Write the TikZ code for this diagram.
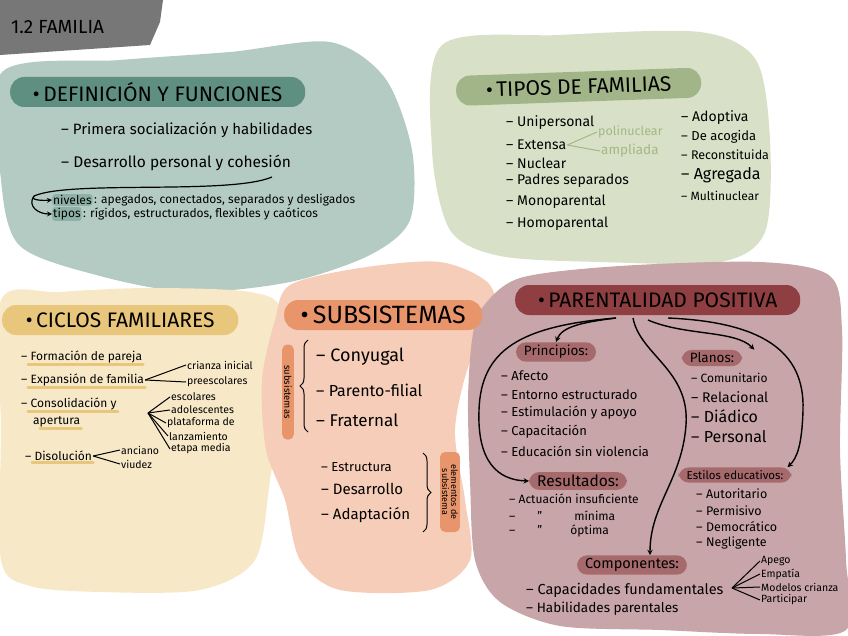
\documentclass[tikz,border=0pt]{standalone}
\usepackage{fontspec}
\setmainfont{Fira Sans}
\usepackage{xcolor}
\usetikzlibrary{positioning,decorations.pathreplacing}
\definecolor{graybox}{HTML}{777777}
\definecolor{tealbg}{HTML}{B4CBC4}
\definecolor{tealdark}{HTML}{5F8F81}
\definecolor{tealmid}{HTML}{8DB1A6}
\definecolor{greenbg}{HTML}{D8E1C7}
\definecolor{greendark}{HTML}{A2B588}
\definecolor{lgreen}{HTML}{A3B886}
\definecolor{yellowbg}{HTML}{F7E8C8}
\definecolor{yellowdark}{HTML}{E8C77C}
\definecolor{salmonbg}{HTML}{F6CDB8}
\definecolor{salmondark}{HTML}{E9956C}
\definecolor{mauvebg}{HTML}{C8A5A8}
\definecolor{mauvedark}{HTML}{8F3F42}
\definecolor{mauvemid}{HTML}{A66A6D}
\newcommand\fsz[1]{\fontsize{#1}{#1}\selectfont}

\begin{document}
\begin{tikzpicture}[x=1pt,y=-1pt,
    hbar/.style={fill=#1,rounded corners=14pt,anchor=west,minimum height=30pt,inner xsep=7pt,font=\fsz{21}},
    item/.style={anchor=west,inner sep=1pt,font=\fsz{#1}},
    item/.default=12,
    pad/.style={fill=mauvemid,rounded corners=10pt,inner xsep=8pt,inner ysep=3pt},
    arr/.style={-stealth,line width=1.4pt},
    brc/.style={decorate,decoration={brace,amplitude=8pt},line width=1pt},
    uline/.style={yellowdark,line width=3pt,line cap=round}]
  \useasboundingbox (0,0) rectangle (848,636);

  % blobs
  \fill[graybox] (0,0) -- (163,0) -- (160,22) -- (150,45) -- (0,55) -- cycle;
  \fill[tealbg] plot[smooth cycle] coordinates {(2,72) (120,60) (230,52) (330,42) (385,78) (412,150) (410,220) (370,255) (290,282) (190,292) (100,276) (20,246) (1,180)};
  \fill[greenbg] plot[smooth cycle] coordinates {(442,45) (560,35) (700,32) (756,60) (770,140) (765,232) (720,262) (600,262) (500,256) (450,230) (432,150)};
  \fill[yellowbg] plot[smooth cycle] coordinates {(1,300) (60,292) (150,288) (250,292) (282,312) (280,400) (270,480) (255,560) (200,590) (100,592) (30,586) (1,560) (1,430)};
  \fill[salmonbg] plot[smooth cycle] coordinates {(290,285) (360,268) (440,262) (490,285) (495,330) (470,362) (455,430) (465,500) (470,560) (430,590) (340,590) (300,560) (285,500) (266,450) (262,380) (275,320)};
  \fill[mauvebg] plot[smooth cycle] coordinates {(482,308) (520,278) (620,266) (760,262) (830,276) (842,330) (840,450) (846,560) (846,630) (760,634) (660,630) (560,626) (500,602) (475,560) (470,480) (468,400) (472,340)};

  \node[item=19] (ttl) at (10,27) {1.2 FAMILIA};

  % definicion y funciones
  \node[hbar=tealdark,minimum width=295pt] (defhead) at (10,92) {\textbullet\,DEFINICIÓN Y FUNCIONES};
  \node[item=15] (dfa) at (60,130) {– Primera socialización y habilidades};
  \node[item=15.5] (dfb) at (60,163) {– Desarrollo personal y cohesión};
  \node[item=12,fill=tealmid,rounded corners=3pt] (niv) at (52,200) {niveles};
  \node[item=12,right=0pt of niv] (nivtxt) {: apegados, conectados, separados y desligados};
  \node[item=12,fill=tealmid,rounded corners=3pt] (tip) at (52,214) {tipos};
  \node[item=12,right=0pt of tip] (tiptxt) {: rígidos, estructurados, flexibles y caóticos};
  \coordinate (dc) at (272,177);
  \coordinate (dl) at (34,196);
  \draw[line width=1.2pt] (dc) .. controls (230,195) and (70,180) .. (dl);
  \draw[arr,line width=1.2pt] (dl) .. controls (30,199) and (38,201) .. (niv.west);
  \draw[arr,line width=1.2pt] (dl) .. controls (27,206) and (38,214) .. (tip.west);

  % tipos de familias
  \node[hbar=greendark,minimum width=245pt,rotate=2] (tiphead) at (456,91) {\textbullet\,TIPOS DE FAMILIAS};
  \node[item=14] (tuni) at (505,123) {– Unipersonal};
  \node[item=14] (text) at (505,145) {– Extensa};
  \node[item=14] (tnuc) at (505,163) {– Nuclear};
  \node[item=14] (tpad) at (505,181) {– Padres separados};
  \node[item=14] (tmon) at (505,202) {– Monoparental};
  \node[item=14] (thom) at (505,224) {– Homoparental};
  \node[item=12.5,text=lgreen] (tpol) at (597,132) {polinuclear};
  \node[item=13.5,text=lgreen] (tamp) at (600,151) {ampliada};
  \draw[lgreen,line width=1pt] (text.east) -- (tpol.west);
  \draw[lgreen,line width=1pt] (text.east) -- (tamp.west);
  \node[item=14] (tado) at (680,118) {– Adoptiva};
  \node[item=13] (tacg) at (680,137) {– De acogida};
  \node[item=12.5] (trec) at (680,155) {– Reconstituida};
  \node[item=16] (tagr) at (680,175) {– Agregada};
  \node[item=12] (tmul) at (680,196) {– Multinuclear};

  % ciclos familiares
  \node[hbar=yellowdark,minimum width=236pt] (cichead) at (2,320) {\textbullet\,CICLOS FAMILIARES};
  \node[item=12] (cfa) at (20,357) {– Formación de pareja};
  \node[item=12] (cfb) at (20,380) {– Expansión de familia};
  \node[item=12] (cfc) at (20,404) {– Consolidación y};
  \node[item=12] (cfd) at (32,422) {apertura};
  \node[item=12] (cfe) at (24,456) {– Disolución};
  \foreach \n in {cfa,cfb,cfc,cfd,cfe}
    \draw[uline] ([xshift=8pt]\n.south west) -- (\n.south east);
  \node[item=10.5] (ccri) at (186,365) {crianza inicial};
  \node[item=10.5] (cpre) at (186,382) {preescolares};
  \draw[line width=1pt] (cfb.east) -- (ccri.west);
  \draw[line width=1pt] (cfb.east) -- (cpre.west);
  \coordinate (cfan) at (148,413);
  \node[item=10.5] (cesc) at (170,397) {escolares};
  \node[item=10.5] (cado) at (170,410) {adolescentes};
  \node[item=10.5] (cpla) at (166,423) {plataforma de};
  \node[item=10.5] (clan) at (168,436) {lanzamiento};
  \node[item=10.5] (ceta) at (170,449) {etapa media};
  \foreach \n in {cesc,cado,cpla,clan,ceta}
    \draw[line width=1pt] (cfan) -- (\n.west);
  \node[item=10.5] (canc) at (120,450) {anciano};
  \node[item=10.5] (cviu) at (120,464) {viudez};
  \draw[line width=1pt] (cfe.east) -- (canc.west);
  \draw[line width=1pt] (cfe.east) -- (cviu.west);

  % subsistemas
  \node[hbar=salmondark,minimum width=198pt,font=\fsz{25}] (subhead) at (284,315) {\textbullet\,SUBSISTEMAS};
  \node[fill=salmondark,rounded corners=5pt,rotate=-90,font=\fsz{9.5},inner sep=2pt,minimum width=95pt] (sublab) at (288,392) {subsistemas};
  \draw[brc] (308,432) -- (308,340);
  \node[item=18] (scon) at (315,357) {– Conyugal};
  \node[item=16] (spar) at (315,390) {– Parento-filial};
  \node[item=17] (sfra) at (315,420) {– Fraternal};
  \node[item=13] (sest) at (320,467) {– Estructura};
  \node[item=15] (sdes) at (320,489) {– Desarrollo};
  \node[item=15] (sada) at (320,515) {– Adaptación};
  \draw[brc] (423,453) -- (423,532);
  \node[fill=salmondark,rounded corners=5pt,rotate=-90,font=\fsz{9},inner sep=2pt,align=center,minimum width=80pt] (elab) at (450,492) {elementos de\\subsistema};

  % parentalidad positiva
  \node[hbar=mauvedark,minimum width=285pt] (parhead) at (515,300) {\textbullet\,PARENTALIDAD POSITIVA};
  \node[pad,font=\fsz{13.5}] (princ) at (556,352) {Principios:};
  \node[item=13] (pafe) at (500,376) {– Afecto};
  \node[item=13] (pent) at (500,395) {– Entorno estructurado};
  \node[item=13] (pest) at (500,413) {– Estimulación y apoyo};
  \node[item=13] (pcap) at (500,432) {– Capacitación};
  \node[item=13] (pedu) at (500,451) {– Educación sin violencia};
  \node[pad,font=\fsz{13.5}] (plan) at (712,358) {Planos:};
  \node[item=12] (lcom) at (690,378) {– Comunitario};
  \node[item=14] (lrel) at (690,397) {– Relacional};
  \node[item=16] (ldia) at (690,416) {– Diádico};
  \node[item=16] (lper) at (690,437) {– Personal};
  \node[pad,font=\fsz{15.5}] (result) at (578,481) {Resultados:};
  \node[item=12] (rins) at (508,499) {– Actuación insuficiente};
  \node[item=12] (rmin) at (508,516) {–\hspace{22pt}''\hspace{32pt}mínima};
  \node[item=12] (ropt) at (508,531) {–\hspace{22pt}''\hspace{28pt}óptima};
  \node[pad,font=\fsz{11.5}] (estil) at (735,475) {Estilos educativos:};
  \node[item=12.5] (eaut) at (695,494) {– Autoritario};
  \node[item=12.5] (eper) at (695,511) {– Permisivo};
  \node[item=12.5] (edem) at (695,527) {– Democrático};
  \node[item=12.5] (eneg) at (695,543) {– Negligente};
  \node[pad,font=\fsz{14.5}] (comp) at (632,565) {Componentes:};
  \node[item=14.5] (ccap) at (525,590) {– Capacidades fundamentales};
  \node[item=13.5] (chab) at (525,609) {– Habilidades parentales};
  \coordinate (cfk) at (732,588);
  \node[item=10.5] (kape) at (760,561) {Apego};
  \node[item=10.5] (kemp) at (760,574) {Empatía};
  \node[item=10.5] (kmod) at (760,587) {Modelos crianza};
  \node[item=10.5] (kpar) at (760,600) {Participar};
  \foreach \n in {kape,kemp,kmod,kpar}
    \draw[line width=1pt] (cfk) -- (\n.west);

  \coordinate (pp1) at (616,318);
  \coordinate (pp2) at (633,318);
  \coordinate (pp3) at (648,320);
  \coordinate (pp4) at (668,318);
  \draw[arr] (pp1) .. controls (585,322) and (562,326) .. (princ.north);
  \draw[arr] (pp1) .. controls (520,326) and (481,350) .. (479,410) .. controls (477,462) and (498,480) .. (result.west);
  \draw[arr] (pp2) .. controls (640,355) and (690,370) .. (686,425) .. controls (682,480) and (650,505) .. ([xshift=18pt]comp.north);
  \draw[arr] (pp3) .. controls (685,336) and (735,330) .. ([xshift=12pt]plan.north east);
  \draw[arr] (pp4) .. controls (760,322) and (805,350) .. (803,410) .. controls (802,445) and (797,458) .. ([xshift=-4pt]estil.north east);
\end{tikzpicture}
\end{document}
